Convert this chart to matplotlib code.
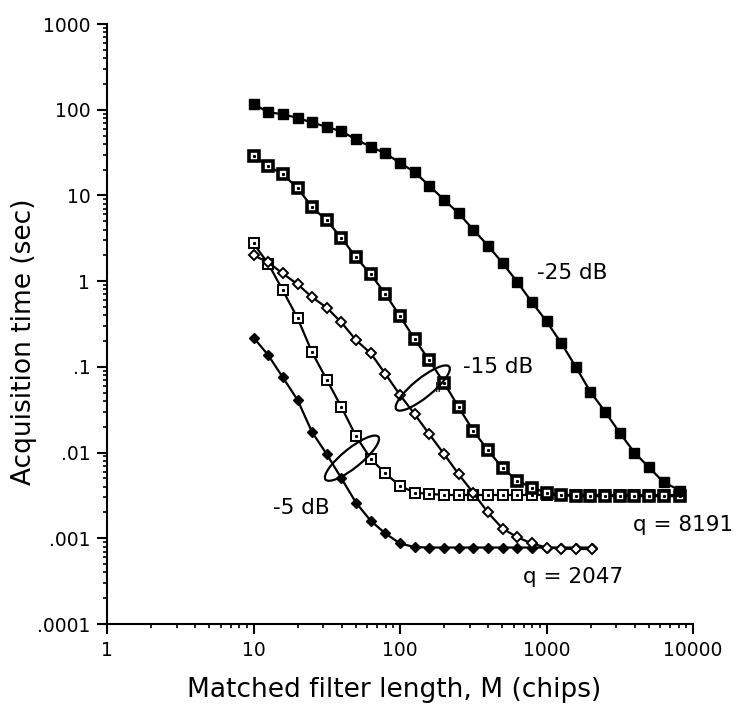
import matplotlib
matplotlib.use("Agg")
import matplotlib.pyplot as plt
import matplotlib.transforms as mtransforms
from matplotlib.patches import Ellipse
from matplotlib.ticker import FixedLocator, LogLocator, NullFormatter

# ---------------- data ----------------
M_8191 = [10, 12.6, 15.8, 20, 25.1, 31.6, 39.8, 50.1, 63.1, 79.4,
          100, 126, 158, 200, 251, 316, 398, 501, 631, 794,
          1000, 1259, 1585, 1995, 2512, 3162, 3981, 5012, 6310, 8191]
M_2047 = [10, 12.6, 15.8, 20, 25.1, 31.6, 39.8, 50.1, 63.1, 79.4,
          100, 126, 158, 200, 251, 316, 398, 501, 631, 794,
          1000, 1259, 1585, 2047]

t_m25_q8191 = [117, 93, 89, 80, 71, 63, 56, 45, 37, 31,
               24, 18.7, 13, 8.9, 6.2, 4.0, 2.6, 1.63, 0.98, 0.57,
               0.34, 0.19, 0.10, 0.051, 0.030, 0.017, 0.010, 0.0067, 0.0045, 0.0036]
t_m15_q8191 = [29, 22, 17.7, 12.2, 7.3, 5.1, 3.2, 1.9, 1.2, 0.71,
               0.39, 0.21, 0.12, 0.065, 0.034, 0.018, 0.0107, 0.0066, 0.0047, 0.0039,
               0.0034, 0.0032, 0.0031, 0.0031, 0.0031, 0.0031, 0.0031, 0.0031, 0.0031, 0.0031]
t_m5_q8191 = [2.75, 1.6, 0.79, 0.37, 0.148, 0.071, 0.034, 0.0155, 0.0085, 0.0057,
              0.0041, 0.0034, 0.0033, 0.0032, 0.0032, 0.0032, 0.0032, 0.0032, 0.0032, 0.0032,
              0.0032, 0.0032, 0.0032, 0.0032, 0.0032, 0.0032, 0.0032, 0.0032, 0.0032, 0.0032]
t_m15_q2047 = [2.0, 1.66, 1.23, 0.92, 0.65, 0.49, 0.33, 0.205, 0.144, 0.083,
               0.047, 0.028, 0.0165, 0.0096, 0.0056, 0.0034, 0.0020, 0.0013, 0.00103, 0.00087,
               0.00078, 0.00076, 0.00075, 0.00075]
t_m5_q2047 = [0.22, 0.137, 0.076, 0.041, 0.0173, 0.0096, 0.0050, 0.0026, 0.0016, 0.00114,
              0.00087, 0.00079, 0.00078, 0.00078, 0.00078, 0.00078, 0.00078, 0.00078, 0.00078, 0.00078,
              0.00078, 0.00078, 0.00078, 0.00078]

x_ticks = [1, 10, 100, 1000, 10000]
x_ticklabels = ["1", "10", "100", "1000", "10000"]
y_ticks = [1e-4, 1e-3, 1e-2, 1e-1, 1, 10, 100, 1000]
y_ticklabels = [".0001", ".001", ".01", ".1", "1", "10", "100", "1000"]

# ---------------- figure ----------------
plt.rcParams['font.family'] = ['DejaVu Sans']
fig = plt.figure(figsize=(7.39, 7.19), dpi=100)
ax = fig.add_axes([107/739, 1 - 624/719, 586/739, 600/719])
ax.set_xscale('log')
ax.set_yscale('log')
ax.set_xlim(1, 10000)
ax.set_ylim(1e-4, 1000)

lw = 1.6
# -5 dB, q=2047: filled diamonds
ax.plot(M_2047, t_m5_q2047, color='black', lw=lw, marker='D', ms=5.5,
        mfc='black', mec='black', zorder=3)
# -15 dB, q=2047: open diamonds
ax.plot(M_2047, t_m15_q2047, color='black', lw=lw, marker='D', ms=5.5,
        mfc='white', mec='black', mew=1.4, zorder=4)
# -5 dB, q=8191: open squares with dot
ax.plot(M_8191, t_m5_q8191, color='black', lw=lw, marker='s', ms=6.5,
        mfc='white', mec='black', mew=1.4, zorder=3)
ax.plot(M_8191, t_m5_q8191, ls='none', marker='s', ms=1.2, mfc='black', mec='black', zorder=3.1)
# -15 dB, q=8191: heavy squares with dot
ax.plot(M_8191, t_m15_q8191, color='black', lw=lw, marker='s', ms=7,
        mfc='white', mec='black', mew=2.6, zorder=5)
ax.plot(M_8191, t_m15_q8191, ls='none', marker='s', ms=1.2, mfc='black', mec='black', zorder=5.1)
# -25 dB, q=8191: filled squares
ax.plot(M_8191, t_m25_q8191, color='black', lw=lw, marker='s', ms=7.5,
        mfc='black', mec='black', zorder=5)

# ellipses grouping curves (drawn in pixel space, anchored at data points)
ell_centers = [(47, 0.0086), (143, 0.0566)]
for cx, cy in ell_centers:
    tr = fig.dpi_scale_trans + mtransforms.ScaledTranslation(cx, cy, ax.transData)
    ax.add_patch(Ellipse((0, 0), 0.68, 0.19, angle=39, transform=tr,
                         fill=False, ec='black', lw=1.6, zorder=6))
ax.text(183, 0.056, "ll", fontsize=9, ha='center', va='center', zorder=7)

# annotations
fs = 15.5
ax.text(861, 1.24, "-25 dB", fontsize=fs, ha='left', va='center')
ax.text(269, 0.10, "-15 dB", fontsize=fs, ha='left', va='center')
ax.text(13.6, 0.00225, "-5 dB", fontsize=fs, ha='left', va='center')
ax.text(3890, 0.00143, "q = 8191", fontsize=fs, ha='left', va='center')
ax.text(691, 0.00035, "q = 2047", fontsize=fs, ha='left', va='center')

# axes styling
for s in ['top', 'right']:
    ax.spines[s].set_visible(False)
for s in ['left', 'bottom']:
    ax.spines[s].set_linewidth(1.5)

ax.xaxis.set_major_locator(FixedLocator(x_ticks))
ax.set_xticklabels(x_ticklabels)
ax.yaxis.set_major_locator(FixedLocator(y_ticks))
ax.set_yticklabels(y_ticklabels)
ax.xaxis.set_minor_locator(LogLocator(base=10, subs=range(2, 10), numticks=20))
ax.yaxis.set_minor_locator(LogLocator(base=10, subs=range(2, 10), numticks=20))
ax.xaxis.set_minor_formatter(NullFormatter())
ax.yaxis.set_minor_formatter(NullFormatter())
ax.tick_params(which='major', direction='out', length=7, width=1.5, labelsize=13.5, pad=5)
ax.tick_params(which='minor', direction='out', length=3, width=1.2)

ax.set_xlabel("Matched filter length, M (chips)", fontsize=19)
ax.set_ylabel("Acquisition time (sec)", fontsize=19)
ax.xaxis.set_label_coords(0.49, -0.088)
ax.yaxis.set_label_coords(-0.12, 0.47)

fig.savefig("out.png", dpi=100)
